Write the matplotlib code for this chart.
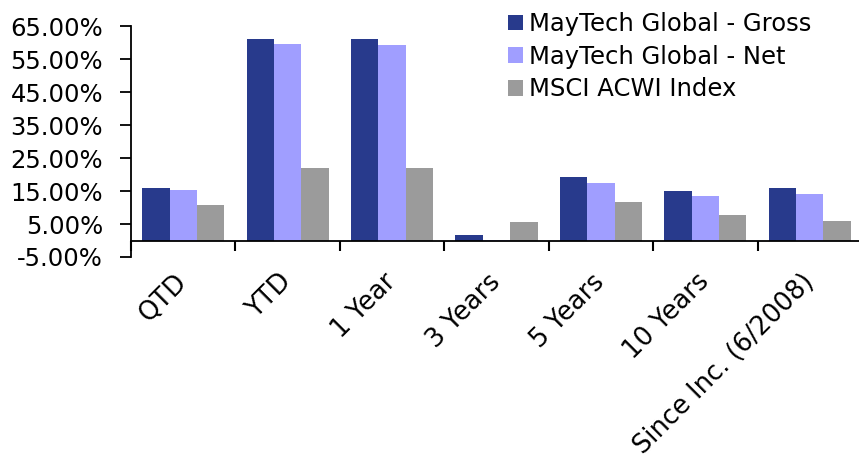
import matplotlib
matplotlib.use("Agg")
import matplotlib.pyplot as plt
import numpy as np
from matplotlib.ticker import FuncFormatter, FixedLocator

categories = ["QTD", "YTD", "1 Year", "3 Years", "5 Years", "10 Years", "Since Inc. (6/2008)"]
gross = [15.8, 61.0, 61.0, 1.6, 19.1, 15.0, 15.8]
net = [15.3, 59.5, 59.2, 0.1, 17.4, 13.4, 14.2]
msci = [10.8, 22.0, 22.0, 5.6, 11.6, 7.7, 6.0]
series_names = ["MayTech Global - Gross", "MayTech Global - Net", "MSCI ACWI Index"]
yticks = [-5, 5, 15, 25, 35, 45, 55, 65]

colors = ["#283A8C", "#A09EFF", "#9B9B9B"]

plt.rcParams['font.family'] = ['DejaVu Sans']

fig = plt.figure(figsize=(8.59, 4.63), dpi=100)
ax = fig.add_axes([131/859, 1-257/463, 731/859, (257-26)/463])

x = np.arange(len(categories))
w = 0.262
for i, (vals, name, c) in enumerate(zip([gross, net, msci], series_names, colors)):
    ax.bar(x + (i-1)*w, vals, width=w, color=c, label=name, zorder=2)

ax.set_xlim(-0.5, len(categories)-0.5)
ax.set_ylim(-5, 65)
ax.set_yticks(yticks)
ax.yaxis.set_major_formatter(FuncFormatter(lambda v, p: f"{v:.2f}%"))
ax.tick_params(axis='y', labelsize=17.5, length=8, width=1.3, pad=12, direction='out')

for s in ['top', 'right']:
    ax.spines[s].set_visible(False)
ax.spines['left'].set_linewidth(1.3)
ax.spines['bottom'].set_position(('data', 0))
ax.spines['bottom'].set_linewidth(1.3)

ax.xaxis.set_major_locator(FixedLocator(list(x)))
ax.xaxis.set_minor_locator(FixedLocator(list(np.arange(len(categories)+1) - 0.5)))
ax.set_xticklabels(categories, rotation=45, ha='right', va='center', rotation_mode='anchor')
ax.tick_params(axis='x', which='major', length=0, labelsize=18.5, pad=27)
ax.tick_params(axis='x', which='minor', length=7, width=1.5, direction='out')

leg = ax.legend(loc='upper left', bbox_to_anchor=(508/859, 1-12/463), bbox_transform=fig.transFigure,
                frameon=False, fontsize=17.5, handlelength=0.62, handleheight=0.62,
                handletextpad=0.25, labelspacing=0.36, borderaxespad=0, borderpad=0)

fig.savefig("out.png", dpi=100)
